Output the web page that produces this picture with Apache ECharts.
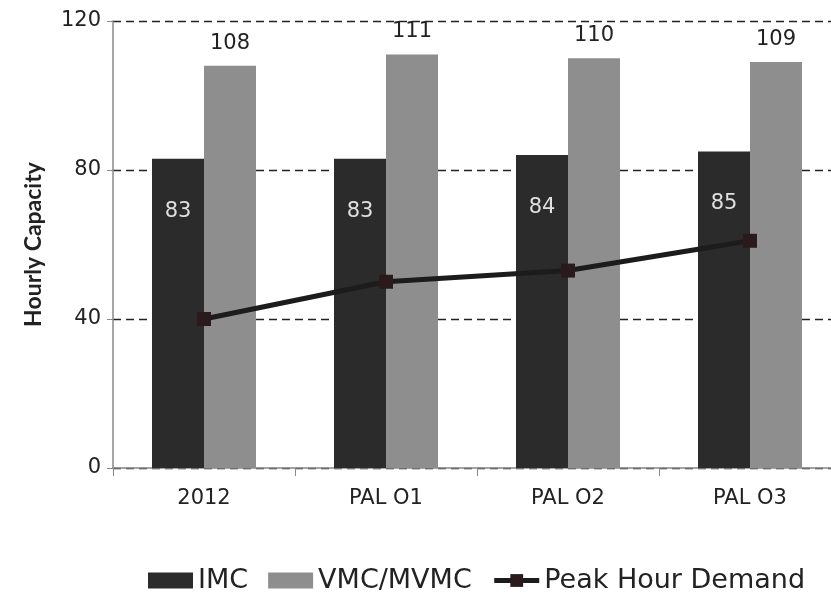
<!DOCTYPE html>
<html><head><meta charset="utf-8">
<script src="https://cdn.jsdelivr.net/npm/echarts@6/dist/echarts.min.js"></script>
<style>html,body{margin:0;padding:0;background:#fff;overflow:hidden}#c{width:841px;height:615px}</style>
</head><body><div id="c"></div>
<script>
const categories = ['2012', 'PAL O1', 'PAL O2', 'PAL O3'];
const imc = [83, 83, 84, 85];
const vmc = [108, 111, 110, 109];
const peakDemand = [40, 50, 53, 61];
const yTicks = [0, 40, 80, 120];

const FONT = '"DejaVu Sans", sans-serif';
const chart = echarts.init(document.getElementById('c'));
chart.setOption({
  animation: false,
  backgroundColor: '#fff',
  textStyle: { fontFamily: FONT },
  grid: { left: 113, top: 21, bottom: 147, right: 0 },
  legend: {
    bottom: 16, left: 143,
    itemWidth: 45, itemHeight: 16, itemGap: 20,
    textStyle: { fontSize: 27, color: '#222', fontFamily: FONT },
    data: [
      { name: 'IMC', icon: 'rect' },
      { name: 'VMC/MVMC', icon: 'rect' },
      { name: 'Peak Hour Demand', lineStyle: { width: 5 } }
    ]
  },
  xAxis: {
    type: 'category', data: categories,
    axisLine: { lineStyle: { color: '#888', width: 1.5 } },
    axisTick: { show: true, length: 8, lineStyle: { color: '#888' } },
    axisLabel: { fontSize: 21, color: '#222', margin: 20, fontFamily: FONT }
  },
  yAxis: {
    type: 'value', min: yTicks[0], max: yTicks[yTicks.length - 1], interval: 40,
    name: 'Hourly Capacity', nameLocation: 'middle', nameGap: 68,
    nameTextStyle: { fontSize: 23, fontWeight: 'bold', color: '#222', fontFamily: 'Lato, sans-serif' },
    axisLine: { show: true, lineStyle: { color: '#888', width: 1.5 } },
    axisTick: { show: true, length: 6, lineStyle: { color: '#888' } },
    axisLabel: { fontSize: 21, color: '#222', margin: 12, fontFamily: FONT },
    splitLine: { show: true, lineStyle: { type: [8, 5], color: '#222', width: 1.4 } }
  },
  series: [
    {
      name: 'IMC', type: 'bar', data: imc, barWidth: 52, barGap: '0%',
      itemStyle: { color: '#2b2b2b' },
      label: { show: true, position: 'insideTop', distance: 42, fontSize: 21, color: '#e0e0e0', fontFamily: FONT }
    },
    {
      name: 'VMC/MVMC', type: 'bar', data: vmc, barWidth: 52,
      itemStyle: { color: '#8e8e8e' },
      label: { show: true, position: 'top', distance: 12, fontSize: 21, color: '#222', fontFamily: FONT }
    },
    {
      name: 'Peak Hour Demand', type: 'line', data: peakDemand,
      symbol: 'rect', symbolSize: 14,
      lineStyle: { color: '#1c1c1c', width: 5 },
      itemStyle: { color: '#2a1a1c' }
    }
  ]
});
</script></body></html>
